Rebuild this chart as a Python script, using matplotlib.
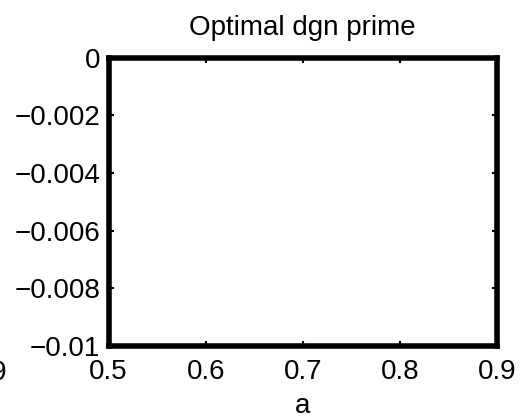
import matplotlib
matplotlib.use("Agg")
import matplotlib.pyplot as plt

# axis ranges and tick values
x_ticks = [0.5, 0.6, 0.7, 0.8, 0.9]
x_labels = ["0.5", "0.6", "0.7", "0.8", "0.9"]
y_ticks = [-0.01, -0.008, -0.006, -0.004, -0.002, 0]
y_labels = ["\u22120.01", "\u22120.008", "\u22120.006", "\u22120.004", "\u22120.002", "0"]

plt.rcParams['font.family'] = ['Liberation Sans', 'DejaVu Sans']
fs = 20

fig = plt.figure(figsize=(5.23, 4.18), dpi=100)
ax = fig.add_axes([0.2075, 0.1722, 0.7428, 0.6902])

ax.set_xlim(x_ticks[0], x_ticks[-1])
ax.set_ylim(y_ticks[0], y_ticks[-1])
ax.set_xticks(x_ticks)
ax.set_xticklabels(x_labels, fontsize=fs)
ax.set_yticks(y_ticks)
ax.set_yticklabels(y_labels, fontsize=fs)
ax.tick_params(direction='in', top=True, right=True, length=3.5, width=1.5)
ax.tick_params(axis='x', pad=9)
ax.tick_params(axis='y', pad=6)

for sp in ax.spines.values():
    sp.set_linewidth(4)

ax.set_title("Optimal dgn prime", fontsize=fs, pad=16)
ax.set_xlabel("a", fontsize=fs, labelpad=6)

# leftover tick label from the neighbouring panel
fig.text(8 / 523, 1 - 372.5 / 418, "0.9", fontsize=fs, ha='right', va='center')

fig.savefig("out.png", dpi=100)
